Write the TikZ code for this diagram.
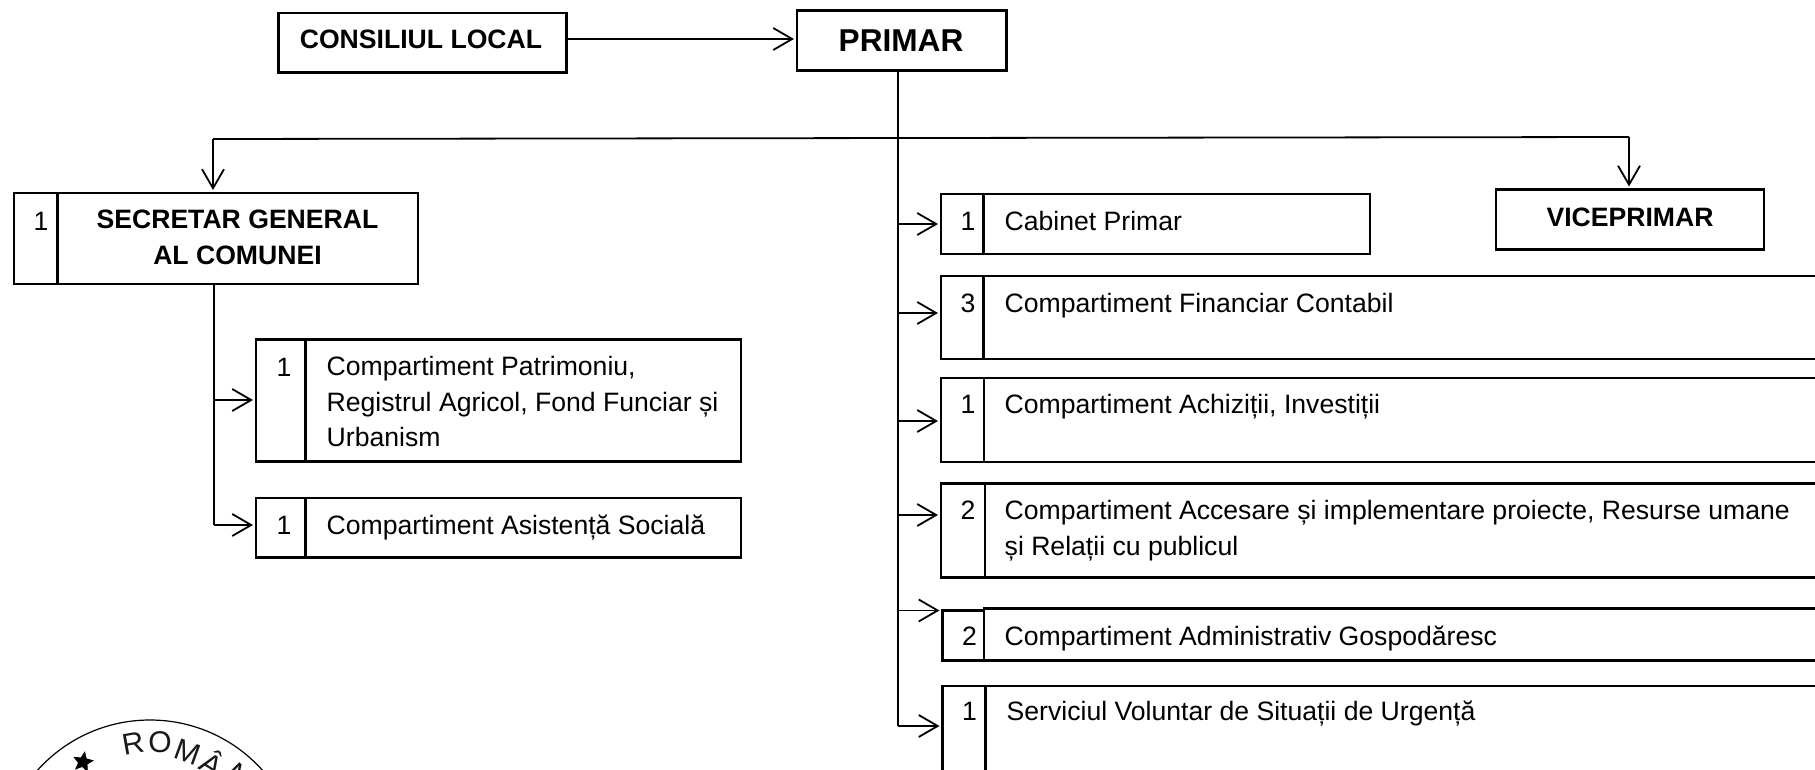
\documentclass[tikz,border=0pt]{standalone}
\usepackage{fontspec}
\setmainfont{Liberation Sans}
\usetikzlibrary{arrows.meta,shapes.geometric}
\tikzset{
  px/.style={x=1pt,y=-1pt},
  boxshape/.style={draw=black,line width=2.1pt,rectangle,inner sep=0pt,outer sep=0pt,anchor=north west},
  link/.style={draw=black,line width=1.8pt},
  arr/.style={link,shorten >=3pt,-{Straight Barb[length=19pt,width=22pt,line width=1.8pt]}},
  lbl/.style={font=\fontsize{26.6}{30}\selectfont,anchor=base west,inner sep=0pt,text=black},
  num/.style={font=\fontsize{26.6}{30}\selectfont,anchor=base,inner sep=0pt,text=black},
  head/.style={font=\fontsize{26.6}{30}\selectfont\bfseries,anchor=base,inner sep=0pt,text=black},
  stamp/.style={font=\fontsize{30}{32}\selectfont,anchor=center,inner sep=0pt,text=black!90},
}
% name, x1, y1, x2, y2
\newcommand\rbox[5]{%
  \pgfmathsetmacro\wdb{#4-#2}\pgfmathsetmacro\htb{#5-#3}%
  \node[boxshape,minimum width=\wdb pt,minimum height=\htb pt] (#1) at (#2,#3) {};}
\begin{document}
\begin{tikzpicture}[px]
\useasboundingbox (0,0) rectangle (1815,770);
\clip (0,0) rectangle (1815,770);
% top boxes
\rbox{cl}{278.5}{13}{566.5}{72.5}
\rbox{pr}{797}{10.5}{1006.5}{70.5}
\node[head] (clt) at (421,48.5) {CONSILIUL LOCAL};
\node[head,font=\fontsize{31.6}{34}\selectfont\bfseries] (prt) at (901,52) {PRIMAR};
\draw[arr] (cl.east |- 0,39) coordinate (a0) -- (a0 -| pr.west);
% secretar
\rbox{sg}{14}{193}{57.5}{284}
\rbox{sgb}{57.5}{193}{418}{284}
\node[num] (sgn) at (41,230) {1};
\node[head] (sgt1) at (237.5,229) {SECRETAR GENERAL};
\node[head] (sgt2) at (237.5,265) {AL COMUNEI};
% patrimoniu
\rbox{pa}{256}{339.5}{305.5}{461.5}
\rbox{pab}{305.5}{339.5}{741}{461.5}
\node[num] (pan) at (284,376) {1};
\node[lbl] (pat1) at (326.5,375) {Compartiment Patrimoniu,};
\node[lbl] (pat2) at (326.5,411) {Registrul Agricol, Fond Funciar și};
\node[lbl] (pat3) at (326.5,446) {Urbanism};
% asistenta
\rbox{as}{256}{498}{305.5}{557.5}
\rbox{asb}{305.5}{498}{741}{557.5}
\node[num] (asn) at (284,534) {1};
\node[lbl] (ast) at (326.5,534) {Compartiment Asistență Socială};
% right column
\rbox{ca}{941}{194}{983.5}{254}
\rbox{cab}{983.5}{194}{1370}{254}
\node[num] (can) at (968,230) {1};
\node[lbl] (cat) at (1004.5,230) {Cabinet Primar};
\rbox{vp}{1496}{189.5}{1764}{249.5}
\node[head] (vpt) at (1630,226) {VICEPRIMAR};
\rbox{fi}{941}{276}{983.5}{359}
\rbox{fib}{983.5}{276}{1840}{359}
\node[num] (fin) at (968,312) {3};
\node[lbl] (fit) at (1004.5,312) {Compartiment Financiar Contabil};
\rbox{ac}{941}{378}{984}{462}
\rbox{acb}{984}{378}{1840}{462}
\node[num] (acn) at (968,413.5) {1};
\node[lbl] (act) at (1004.5,413.5) {Compartiment Achiziții, Investiții};
\rbox{ap}{941}{483.5}{985}{577.5}
\rbox{apb}{985}{483.5}{1840}{577.5}
\node[num] (apn) at (968,519) {2};
\node[lbl] (apt1) at (1004.5,519) {Compartiment Accesare și implementare proiecte, Resurse umane};
\node[lbl] (apt2) at (1004.5,555) {și Relații cu publicul};
\rbox{ad}{942.5}{610.5}{984}{660.5}
\rbox{adb}{984}{608.5}{1840}{660.5}
\node[num] (adn) at (969.5,645) {2};
\node[lbl] (adt) at (1004.5,645) {Compartiment Administrativ Gospodăresc};
\rbox{se}{942.5}{686}{985.5}{800}
\rbox{seb}{985.5}{686}{1840}{800}
\node[num] (sen) at (969.5,720) {1};
\node[lbl] (set) at (1006.5,720) {Serviciul Voluntar de Situații de Urgență};
% trunk from primar
\coordinate (trA) at (898,70.5);
\coordinate (trB) at (898,726);
\draw[link] (trA) -- (trB);
\coordinate (hL) at (213,139);
\coordinate (hR) at (1629,137);
\draw[link] (hL) -- (hR);
\draw[arr] (hL) -- (hL |- sg.north);
\draw[arr] (hR) -- (hR |- vp.north);
\foreach \yy/\bb in {224/ca,313/fi,421/ac,515/ap,610.5/ad,726/se}{
  \coordinate (tt) at (898,\yy);
  \draw[arr] (tt) -- (tt -| \bb.west);
}
% secretar trunk
\coordinate (sA) at (214,284);
\coordinate (sB) at (214,525);
\coordinate (sC) at (214,400);
\draw[link] (sA) -- (sB);
\draw[arr] (sC) -- (sC -| pa.west);
\draw[arr] (sB) -- (sB -| as.west);
% stamp
\draw[line width=1.2pt] (150,871) circle (151);
\node[stamp,rotate=10] (st1) at (133,743) {R};
\node[stamp,rotate=0] (st2) at (160,742) {O};
\node[stamp,rotate=-20] (st3) at (188,752) {M};
\node[stamp,rotate=-32] (st4) at (213,763) {Â};
\node[stamp,rotate=-45] (st5) at (238,776) {N};
\node[star,star points=5,star point ratio=2.2,fill=black,draw=black,line width=.8pt,minimum size=20pt,inner sep=0pt,rotate=-10] (st6) at (83,762) {};
\end{tikzpicture}
\end{document}
